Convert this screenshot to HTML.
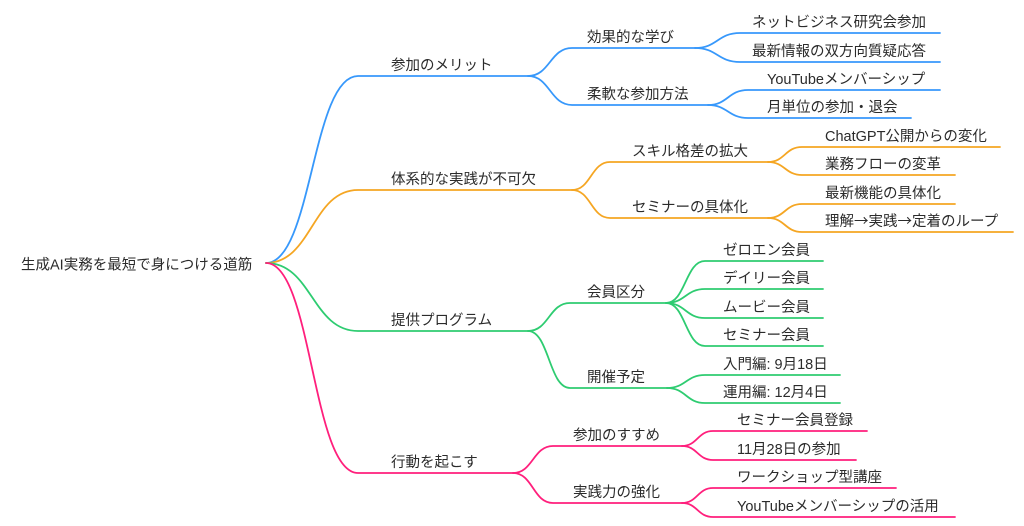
<!DOCTYPE html>
<html>
<head>
<meta charset="utf-8">
<style>
  html, body { margin: 0; padding: 0; background: #ffffff; }
  body { width: 1024px; height: 526px; overflow: hidden; }
  svg { display: block; }
  text { font-family: "Liberation Sans", "Noto Sans CJK JP", sans-serif; font-size: 14.5px; fill: #2b2b2b; }
  .cjk { font-family: "Noto Sans CJK JP", sans-serif; }
  path { fill: none; stroke-width: 1.8; stroke-linecap: round; }
  .b { stroke: #3798fb; }
  .o { stroke: #f5a623; }
  .g { stroke: #2ecc71; }
  .p { stroke: #ff1f7c; }
</style>
</head>
<body>
<svg width="1024" height="526" viewBox="0 0 1024 526" xmlns="http://www.w3.org/2000/svg">
  <!-- Blue branch -->
  <path class="b" d="M266 263 C312 263 312 76 358 76 H528"/>
  <path class="b" d="M528 76 C550 76 550 48 572 48 H695"/>
  <path class="b" d="M528 76 C550 76 550 105 572 105 H708"/>
  <path class="b" d="M695 48 C717.5 48 717.5 33 740 33 H940"/>
  <path class="b" d="M695 48 C717.5 48 717.5 62 740 62 H940"/>
  <path class="b" d="M708 105 C728 105 728 90 748 90 H940"/>
  <path class="b" d="M708 105 C728 105 728 118 748 118 H911"/>

  <!-- Orange branch -->
  <path class="o" d="M266 263 C312 263 312 190 358 190 H572"/>
  <path class="o" d="M572 190 C591 190 591 162 610 162 H768"/>
  <path class="o" d="M572 190 C591 190 591 218 610 218 H768"/>
  <path class="o" d="M768 162 C785 162 785 147 802 147 H1000"/>
  <path class="o" d="M768 162 C785 162 785 175 802 175 H955"/>
  <path class="o" d="M768 218 C785 218 785 204 802 204 H955"/>
  <path class="o" d="M768 218 C785 218 785 232 802 232 H1013"/>

  <!-- Green branch -->
  <path class="g" d="M266 263 C312 263 312 331 358 331 H528"/>
  <path class="g" d="M528 331 C549 331 549 303 570 303 H666"/>
  <path class="g" d="M528 331 C549 331 549 388 570 388 H667"/>
  <path class="g" d="M666 303 C685.5 303 685.5 261 705 261 H823"/>
  <path class="g" d="M666 303 C685.5 303 685.5 289 705 289 H823"/>
  <path class="g" d="M666 303 C685.5 303 685.5 318 705 318 H823"/>
  <path class="g" d="M666 303 C685.5 303 685.5 346 705 346 H823"/>
  <path class="g" d="M667 388 C686 388 686 375 705 375 H840"/>
  <path class="g" d="M667 388 C686 388 686 403 705 403 H840"/>

  <!-- Pink branch -->
  <path class="p" d="M266 263 C312 263 312 473 358 473 H513"/>
  <path class="p" d="M513 473 C533 473 533 446 553 446 H682"/>
  <path class="p" d="M513 473 C533 473 533 503 553 503 H682"/>
  <path class="p" d="M682 446 C697.5 446 697.5 431 713 431 H867"/>
  <path class="p" d="M682 446 C697.5 446 697.5 460 713 460 H856"/>
  <path class="p" d="M682 503 C697.5 503 697.5 488 713 488 H896"/>
  <path class="p" d="M682 503 C697.5 503 697.5 517 713 517 H955"/>

  <!-- Root -->
  <text x="21" y="269.5">生成AI実務を最短で身につける道筋</text>

  <!-- Level 1 -->
  <text x="391" y="70">参加のメリット</text>
  <text x="391" y="184">体系的な実践が不可欠</text>
  <text x="391" y="325">提供プログラム</text>
  <text x="391" y="467">行動を起こす</text>

  <!-- Level 2 -->
  <text x="587" y="42">効果的な学び</text>
  <text x="587" y="99">柔軟な参加方法</text>
  <text x="632" y="156">スキル格差の拡大</text>
  <text x="632" y="212">セミナーの具体化</text>
  <text x="587" y="297">会員区分</text>
  <text x="587" y="382">開催予定</text>
  <text x="573" y="440">参加のすすめ</text>
  <text x="573" y="497">実践力の強化</text>

  <!-- Level 3 blue -->
  <text x="752" y="27">ネットビジネス研究会参加</text>
  <text x="752" y="56">最新情報の双方向質疑応答</text>
  <text x="767" y="84">YouTubeメンバーシップ</text>
  <text x="767" y="112">月単位の参加・退会</text>

  <!-- Level 3 orange -->
  <text x="825" y="141">ChatGPT公開からの変化</text>
  <text x="825" y="169">業務フローの変革</text>
  <text x="825" y="198">最新機能の具体化</text>
  <text x="825" y="226">理解<tspan class="cjk">→</tspan>実践<tspan class="cjk">→</tspan>定着のループ</text>

  <!-- Level 3 green -->
  <text x="723" y="255">ゼロエン会員</text>
  <text x="723" y="283">デイリー会員</text>
  <text x="723" y="312">ムービー会員</text>
  <text x="723" y="340">セミナー会員</text>
  <text x="723" y="369">入門編: 9月18日</text>
  <text x="723" y="397">運用編: 12月4日</text>

  <!-- Level 3 pink -->
  <text x="737" y="425">セミナー会員登録</text>
  <text x="737" y="454">11月28日の参加</text>
  <text x="737" y="482">ワークショップ型講座</text>
  <text x="737" y="511">YouTubeメンバーシップの活用</text>
</svg>
</body>
</html>
